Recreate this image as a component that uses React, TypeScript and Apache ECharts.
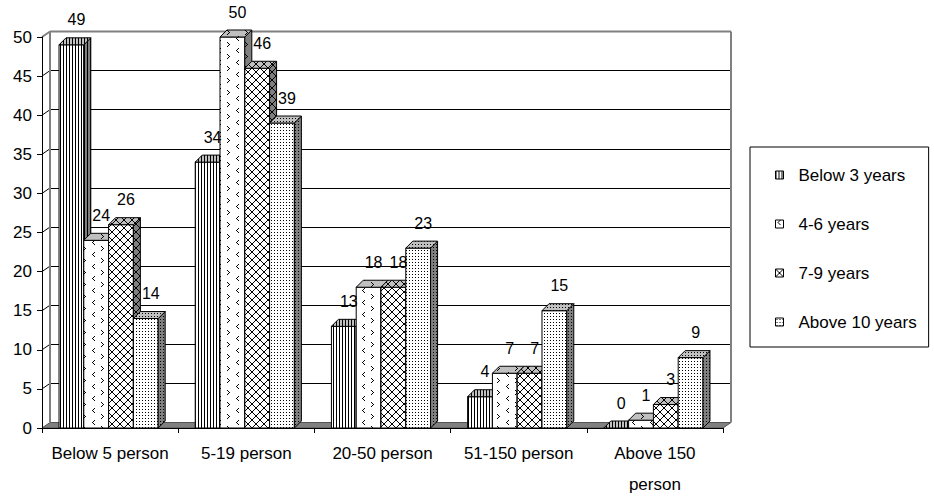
import React, { useEffect, useRef } from 'react';
import * as echarts from 'echarts';

// Firm size categories (x axis)
const categories = ['Below 5 person', '5-19 person', '20-50 person', '51-150 person', 'Above 150\nperson'];

// Years in operation (series)
const seriesNames = ['Below 3 years', '4-6 years', '7-9 years', 'Above 10 years'];
const below3Years = [49, 34, 13, 4, 0];
const years4to6 = [24, 50, 18, 7, 1];
const years7to9 = [26, 46, 18, 7, 3];
const above10Years = [14, 39, 23, 15, 9];
const seriesValues = [below3Years, years4to6, years7to9, above10Years];

// Value axis ticks
const yTicks = [0, 5, 10, 15, 20, 25, 30, 35, 40, 45, 50];

const FONT = '"Liberation Sans", Arial, Helvetica, sans-serif';
const BAR_RATIO = 0.182; // bar width as a share of the category band
const GROUP_SHIFT = -1.5;
const BAR_DX = 7;
const BAR_DY = -7;
const WALL_DX = 8;
const WALL_DY = -5.5;
const WALL_GRAY = '#808080';

type Pixel = (x: number, y: number) => void;

function makeTile(w: number, h: number, bg: string, paint: (px: Pixel) => void) {
  const c = document.createElement('canvas');
  c.width = w;
  c.height = h;
  const ctx = c.getContext('2d') as CanvasRenderingContext2D;
  ctx.fillStyle = bg;
  ctx.fillRect(0, 0, w, h);
  ctx.fillStyle = '#000';
  paint((x, y) => ctx.fillRect(x, y, 1, 1));
  return { image: c.toDataURL(), repeat: 'repeat', imageWidth: w, imageHeight: h };
}

// Hatch fills, one per series
const hatchDefs: { w: number; h: number; paint: (px: Pixel) => void }[] = [
  // vertical stripes
  { w: 3, h: 1, paint: (px) => px(0, 0) },
  // small "<" and ">" marks
  {
    w: 18,
    h: 12,
    paint: (px) => {
      [[4, 0], [3, 1], [2, 2], [3, 3], [4, 4]].forEach(([x, y]) => px(x, y));
      [[11, 6], [12, 7], [13, 8], [12, 9], [11, 10]].forEach(([x, y]) => px(x, y));
    },
  },
  // diagonal cross-hatch
  {
    w: 8,
    h: 8,
    paint: (px) => {
      for (let i = 0; i < 8; i++) {
        px(i, i);
        px(7 - i, i);
      }
    },
  },
  // dotted grid
  { w: 3, h: 3, paint: (px) => px(1, 1) },
];

function buildFills() {
  return hatchDefs.map((d) => ({
    front: makeTile(d.w, d.h, '#ffffff', d.paint),
    side: makeTile(d.w, d.h, '#808080', d.paint),
    top: makeTile(d.w, d.h, '#c0c0c0', d.paint),
  }));
}

export default function App() {
  const ref = useRef<HTMLDivElement>(null);

  useEffect(() => {
    if (!ref.current) return;
    const chart = echarts.init(ref.current, undefined, { renderer: 'svg' });
    const fills = buildFills();
    const maxTick = yTicks[yTicks.length - 1];

    const barSeries = seriesValues.map((vals, s) => ({
      type: 'custom',
      name: seriesNames[s],
      xAxisIndex: 0,
      yAxisIndex: 0,
      z: 2,
      itemStyle: { color: fills[s].front as any, borderColor: '#000', borderWidth: 1 },
      data: vals.map((v, i) => [i, v]),
      encode: { x: 0, y: 1 },
      renderItem: (params: any, api: any) => {
        const ci = api.value(0);
        const v = api.value(1);
        const base = api.coord([ci, 0]);
        const top = api.coord([ci, v]);
        const band = api.size([1, 0])[0];
        const bw = band * BAR_RATIO;
        const x0 = base[0] - 2 * bw + GROUP_SHIFT + s * bw;
        const x1 = x0 + bw;
        const yt = top[1];
        const yb = base[1];
        return {
          type: 'group',
          children: [
            {
              type: 'rect',
              shape: { x: x0, y: yt, width: bw, height: yb - yt },
              style: { fill: fills[s].front, stroke: '#000', lineWidth: 1 },
            },
            {
              type: 'polygon',
              shape: { points: [[x1, yt], [x1 + BAR_DX, yt + BAR_DY], [x1 + BAR_DX, yb + BAR_DY], [x1, yb]] },
              style: { fill: fills[s].side, stroke: '#000', lineWidth: 1 },
            },
            {
              type: 'polygon',
              shape: { points: [[x0, yt], [x0 + BAR_DX, yt + BAR_DY], [x1 + BAR_DX, yt + BAR_DY], [x1, yt]] },
              style: { fill: fills[s].top, stroke: '#000', lineWidth: 1 },
            },
            {
              type: 'text',
              z2: 100,
              style: {
                text: String(v),
                x: (x0 + x1) / 2 + 5,
                y: yt + BAR_DY - 18,
                align: 'center',
                verticalAlign: 'middle',
                font: `16px ${FONT}`,
                fill: '#000',
              },
            },
          ],
        };
      },
    }));

    // Floor, side wall and frame of the back wall
    const wallSeries = {
      type: 'custom',
      xAxisIndex: 0,
      yAxisIndex: 0,
      z: 1,
      silent: true,
      data: yTicks.map((v) => [0, v]),
      encode: { x: 0, y: 1 },
      renderItem: (params: any, api: any) => {
        const cs = params.coordSys;
        const v = api.value(1);
        const y = api.coord([0, v])[1];
        const left = cs.x;
        const right = cs.x + cs.width;
        const bottom = cs.y + cs.height;
        if (v === 0) {
          return {
            type: 'polygon',
            shape: { points: [[left, y], [right, y], [right + WALL_DX, y + WALL_DY], [left + WALL_DX, y + WALL_DY]] },
            style: { fill: WALL_GRAY, stroke: '#555', lineWidth: 1 },
          };
        }
        if (v === maxTick) {
          const gray = { stroke: WALL_GRAY, lineWidth: 2, fill: 'none' };
          return {
            type: 'group',
            children: [
              { type: 'line', shape: { x1: left, y1: y, x2: left + WALL_DX, y2: y + WALL_DY }, style: gray },
              { type: 'line', shape: { x1: left + WALL_DX, y1: y + WALL_DY, x2: right + WALL_DX, y2: y + WALL_DY }, style: gray },
              { type: 'line', shape: { x1: left + WALL_DX, y1: y + WALL_DY, x2: left + WALL_DX, y2: bottom + WALL_DY }, style: gray },
              { type: 'line', shape: { x1: right + WALL_DX, y1: y + WALL_DY, x2: right + WALL_DX, y2: bottom + WALL_DY }, style: gray },
            ],
          };
        }
        return {
          type: 'line',
          shape: { x1: left, y1: y, x2: left + WALL_DX, y2: y + WALL_DY },
          style: { stroke: '#000', lineWidth: 1 },
        };
      },
    };

    const splitColors = yTicks.map((v, i) => (i === 0 || i === yTicks.length - 1 ? WALL_GRAY : '#000'));

    chart.setOption({
      animation: false,
      backgroundColor: '#fff',
      textStyle: { fontFamily: FONT },
      grid: [
        { left: 42, top: 37, width: 681, height: 391, outerBoundsMode: 'none', containLabel: false },
        { left: 42 + WALL_DX, top: 37 + WALL_DY, width: 681, height: 391, outerBoundsMode: 'none', containLabel: false },
      ],
      legend: {
        orient: 'vertical',
        left: 750,
        top: 147,
        borderColor: '#000',
        borderWidth: 1,
        backgroundColor: '#fff',
        padding: [18, 12, 15, 25],
        itemGap: 29,
        itemWidth: 8,
        itemHeight: 8,
        selectedMode: false,
        icon: 'rect',
        textStyle: { fontSize: 17, fontFamily: FONT, color: '#000', lineHeight: 20, padding: [0, 0, 0, 10] },
        data: seriesNames.map((name, s) => ({
          name,
          itemStyle: { color: fills[s].front as any, borderColor: '#000', borderWidth: 1 },
        })),
      },
      xAxis: [
        {
          gridIndex: 0,
          type: 'category',
          data: categories,
          boundaryGap: true,
          z: 5,
          axisLine: { lineStyle: { color: '#000', width: 1 } },
          axisTick: { show: true, length: 5, alignWithLabel: false, lineStyle: { color: '#000' } },
          axisLabel: { interval: 0, fontSize: 17, fontFamily: FONT, color: '#000', lineHeight: 31, margin: 10 },
          splitLine: { show: false },
        },
        {
          gridIndex: 1,
          type: 'category',
          data: categories,
          axisLine: { show: false },
          axisTick: { show: false },
          axisLabel: { show: false },
          splitLine: { show: false },
        },
      ],
      yAxis: [
        {
          gridIndex: 0,
          type: 'value',
          min: 0,
          max: 50,
          interval: 5,
          z: 5,
          axisLine: { show: true, lineStyle: { color: '#000', width: 1 } },
          axisTick: { show: true, length: 5, lineStyle: { color: '#000' } },
          axisLabel: { fontSize: 17, fontFamily: FONT, color: '#000', margin: 10 },
          splitLine: { show: false },
        },
        {
          gridIndex: 1,
          type: 'value',
          min: 0,
          max: 50,
          interval: 5,
          axisLine: { show: false },
          axisTick: { show: false },
          axisLabel: { show: false },
          splitLine: { show: true, lineStyle: { color: splitColors, width: 1 } },
        },
      ],
      series: [wallSeries, ...barSeries],
    });

    return () => chart.dispose();
  }, []);

  return (
    <div
      ref={ref}
      style={{ position: 'absolute', left: 0, top: 0, width: 934, height: 497, background: '#fff' }}
    />
  );
}
